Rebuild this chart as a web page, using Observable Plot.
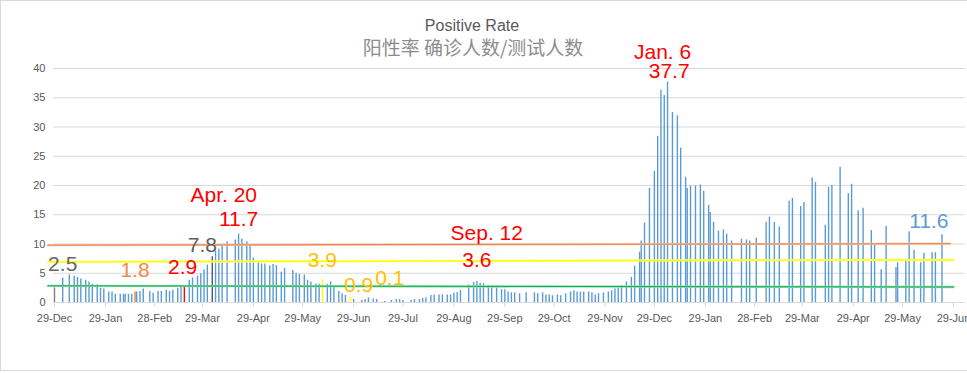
<!DOCTYPE html>
<html>
<head>
<meta charset="utf-8">
<script src="https://cdn.jsdelivr.net/npm/d3@7"></script>
<script src="https://cdn.jsdelivr.net/npm/@observablehq/plot@0.6"></script>
<style>
  html, body { margin: 0; padding: 0; background: #fff; overflow: hidden; }
  #wrap { position: relative; width: 967px; height: 373px; }
  #frame { position: absolute; left: 0; top: 0; width: 990px; height: 371px; border: 1px solid #d9d9d9; box-sizing: border-box; pointer-events: none; }
  #titles { position: absolute; left: 0; top: 0; }
  #chart { position: absolute; left: 0; top: 0; }
</style>
</head>
<body>
<div id="wrap">
  <div id="chart"></div>
  <svg id="titles" width="967" height="70">
    <text x="472" y="31" text-anchor="middle" font-family="Liberation Sans, Arial, sans-serif" font-size="16" fill="#595959">Positive Rate</text>
    <text x="473" y="54.5" text-anchor="middle" font-family="Noto Sans CJK SC, sans-serif" font-size="19" fill="#8c8c8c">阳性率 确诊人数/测试人数</text>
  </svg>
  <div id="frame"></div>
</div>
<script>
// ---- data (positive rate, %) ----
const dates = [
  "2020-12-29","2021-01-03","2021-01-07","2021-01-10","2021-01-12","2021-01-14","2021-01-17","2021-01-19","2021-01-21","2021-01-24",
  "2021-01-26","2021-01-28","2021-01-31","2021-02-02","2021-02-04","2021-02-07","2021-02-09","2021-02-10","2021-02-12","2021-02-14",
  "2021-02-16","2021-02-17","2021-02-19","2021-02-21","2021-02-25","2021-02-27","2021-03-02","2021-03-04","2021-03-07","2021-03-09",
  "2021-03-11","2021-03-14","2021-03-16","2021-03-18","2021-03-21","2021-03-23","2021-03-26","2021-03-28","2021-03-30","2021-04-01",
  "2021-04-04","2021-04-06","2021-04-08","2021-04-10","2021-04-13","2021-04-18","2021-04-20","2021-04-22","2021-04-25","2021-04-27",
  "2021-04-29","2021-05-02","2021-05-04","2021-05-06","2021-05-09","2021-05-11","2021-05-13","2021-05-16","2021-05-18","2021-05-23",
  "2021-05-25","2021-05-27","2021-05-30","2021-06-01","2021-06-03","2021-06-06","2021-06-08","2021-06-10","2021-06-13","2021-06-15",
  "2021-06-17","2021-06-20","2021-06-22","2021-06-24","2021-06-27","2021-06-29","2021-07-04","2021-07-06","2021-07-08","2021-07-11",
  "2021-07-13","2021-07-16","2021-07-18","2021-07-22","2021-07-25","2021-07-27","2021-07-29","2021-08-03","2021-08-05","2021-08-08",
  "2021-08-10","2021-08-12","2021-08-15","2021-08-17","2021-08-20","2021-08-22","2021-08-25","2021-08-27","2021-08-29","2021-08-31",
  "2021-09-02","2021-09-07","2021-09-10","2021-09-12","2021-09-14","2021-09-16","2021-09-19","2021-09-21","2021-09-24","2021-09-27",
  "2021-09-29","2021-10-01","2021-10-03","2021-10-05","2021-10-08","2021-10-12","2021-10-17","2021-10-19","2021-10-22","2021-10-24",
  "2021-10-26","2021-10-28","2021-10-31","2021-11-02","2021-11-05","2021-11-08","2021-11-10","2021-11-12","2021-11-14","2021-11-16",
  "2021-11-19","2021-11-21","2021-11-23","2021-11-25","2021-11-28","2021-12-01","2021-12-03","2021-12-05","2021-12-07","2021-12-09",
  "2021-12-12","2021-12-15","2021-12-17","2021-12-20","2021-12-21","2021-12-23","2021-12-26","2021-12-29","2021-12-31","2022-01-02",
  "2022-01-04","2022-01-06","2022-01-09","2022-01-12","2022-01-14","2022-01-17","2022-01-18","2022-01-20","2022-01-23","2022-01-26",
  "2022-01-28","2022-01-31","2022-02-01","2022-02-03","2022-02-06","2022-02-09","2022-02-11","2022-02-14","2022-02-20","2022-02-23",
  "2022-02-25","2022-03-01","2022-03-07","2022-03-09","2022-03-12","2022-03-15","2022-03-21","2022-03-23","2022-03-28","2022-03-30",
  "2022-04-04","2022-04-06","2022-04-12","2022-04-14","2022-04-16","2022-04-21","2022-04-26","2022-04-28","2022-05-02","2022-05-05",
  "2022-05-10","2022-05-12","2022-05-16","2022-05-19","2022-05-25","2022-05-26","2022-05-31","2022-06-02","2022-06-05","2022-06-09",
  "2022-06-11","2022-06-16","2022-06-18","2022-06-22"
];
const rates = [
  2.5, 4.2, 4.7, 4.5, 4.3, 4.0, 3.8, 3.5, 3.1, 3.0,
  2.4, 2.3, 1.8, 1.8, 1.4, 1.4, 1.4, 1.4, 1.4, 1.4,
  1.8, 1.8, 1.9, 2.3, 1.9, 1.6, 1.9, 1.9, 2.1, 1.9,
  2.1, 2.4, 2.6, 2.9, 3.8, 4.2, 4.5, 4.9, 5.6, 6.4,
  7.8, 8.8, 9.1, 9.7, 10.4, 10.7, 11.7, 10.8, 10.4, 9.7,
  7.6, 6.9, 6.6, 6.6, 6.3, 6.5, 6.3, 5.2, 5.8, 5.5,
  5.0, 4.8, 4.7, 3.8, 3.5, 3.1, 3.1, 3.9, 3.1, 3.5,
  2.8, 1.9, 1.5, 1.2, 0.9, 0.5, 0.35, 0.5, 0.8, 0.6,
  0.5, 0.1, 0.15, 0.35, 0.5, 0.5, 0.35, 0.35, 0.5, 0.5,
  0.7, 0.8, 1.2, 1.3, 1.3, 1.3, 1.3, 1.3, 1.6, 1.7,
  2.1, 3.0, 3.4, 3.6, 3.3, 3.2, 2.9, 2.85, 2.5, 2.2,
  2.2, 1.8, 1.65, 1.65, 1.5, 1.65, 1.65, 1.5, 1.65, 1.3,
  1.3, 1.15, 1.3, 1.15, 1.5, 1.8, 2.0, 1.8, 1.8, 1.8,
  1.8, 1.65, 1.3, 1.5, 1.65, 1.8, 2.0, 2.3, 2.5, 2.85,
  3.5, 4.3, 6.2, 8.6, 10.5, 13.6, 19.5, 22.4, 28.4, 36.3,
  35.4, 37.7, 32.5, 31.9, 26.4, 21.4, 19.5, 19.9, 19.9, 20.1,
  19.0, 16.6, 15.4, 13.7, 12.2, 12.4, 11.7, 10.5, 10.8, 10.7,
  10.5, 11.0, 13.7, 14.6, 13.7, 12.9, 17.3, 17.8, 16.4, 17.1,
  21.3, 20.5, 13.2, 19.7, 20.0, 23.1, 18.6, 20.2, 15.7, 16.1,
  12.3, 9.9, 5.6, 13.0, 6.0, 6.8, 7.2, 12.1, 8.9, 6.8,
  8.4, 8.5, 8.5, 11.6
];

// highlighted bars
const highlightDates = ["2020-12-29", "2021-02-16", "2021-03-18", "2021-04-04", "2021-06-10", "2021-06-27", "2021-07-16"];

// annotations
const annLabels = ["2.5", "1.8", "2.9", "7.8", "Apr. 20", "11.7", "3.9", "0.9", "0.1", "Sep. 12", "3.6", "Jan. 6", "37.7", "11.6"];
const annDates  = ["2021-01-03", "2021-02-16", "2021-03-17", "2021-03-29", "2021-04-11", "2021-04-20", "2021-06-10", "2021-07-02", "2021-07-21", "2021-09-18", "2021-09-12", "2022-01-03", "2022-01-07", "2022-06-14"];
const annValues = [6.6, 5.5, 5.95, 9.8, 18.4, 14.15, 7.3, 2.95, 4.15, 11.75, 7.15, 42.8, 39.6, 13.9];

// reference lines
const refNames       = ["orange", "yellow", "green"];
const refStartDates  = ["2020-12-25", "2020-12-25", "2020-12-25"];
const refEndDates    = ["2022-06-27", "2022-06-29", "2022-06-29"];
const refStartValues = [9.8, 6.95, 2.85];
const refEndValues   = [10.05, 7.3, 2.65];

// axis ticks
const xTickDates = ["2020-12-29","2021-01-29","2021-02-28","2021-03-29","2021-04-29","2021-05-29","2021-06-29","2021-07-29","2021-08-29","2021-09-29",
  "2021-10-29","2021-11-29","2021-12-29","2022-01-29","2022-02-28","2022-03-29","2022-04-29","2022-05-29","2022-06-29"];
const yTicks = [0, 5, 10, 15, 20, 25, 30, 35, 40];

// ---- styles ----
const BLUE = "#5B9BD5";
const highlightColors = ["#7f7f7f", "#ED7D31", "#FF0000", "#595959", "#FFFF00", "#FFFF00", "#FFFF00"];
const annColors = ["#666666", "#EE8A4A", "#FF0000", "#5f5f5f", "#FF0000", "#FF0000", "#FFC000", "#FFC000", "#FFC000", "#FF0000", "#FF0000", "#FF0000", "#FF0000", "#5B9BD5"];
const refStyles = {
  orange: [{stroke: "#F5C3A6", width: 2.2}, {stroke: "#E9834A", width: 1}],
  yellow: [{stroke: "#FFFF70", width: 2.2}, {stroke: "#FFFF00", width: 1.2}],
  green:  [{stroke: "#9ED9B3", width: 2.4}, {stroke: "#00B050", width: 1}]
};

// ---- build ----
const parse = d3.utcParse("%Y-%m-%d");
const colorOf = new Map(highlightDates.map((d, i) => [d, highlightColors[i]]));
const bars = dates.map((d, i) => ({date: parse(d), rate: rates[i], color: colorOf.get(d) || BLUE}));
const anns = annLabels.map((t, i) => ({label: t, date: parse(annDates[i]), v: annValues[i], color: annColors[i]}));
const refs = refNames.map((n, i) => ({name: n, pts: [
  {date: parse(refStartDates[i]), v: refStartValues[i]},
  {date: parse(refEndDates[i]), v: refEndValues[i]}
]}));

const refMarks = refs.flatMap(r => refStyles[r.name].map(s =>
  Plot.line(r.pts, {x: "date", y: "v", stroke: s.stroke, strokeWidth: s.width})));

const chart = Plot.plot({
  width: 967,
  height: 373,
  marginLeft: 53,
  marginRight: 2,
  marginTop: 68,
  marginBottom: 71,
  style: {fontFamily: "Liberation Sans, Arial, sans-serif", fontSize: "11px", background: "transparent", overflow: "visible"},
  x: {type: "utc", domain: [parse(xTickDates[0]), parse(xTickDates[xTickDates.length - 1])], range: [54, 953], label: null},
  y: {domain: [0, 40], label: null},
  color: {type: "identity"},
  marks: [
    Plot.ruleY(yTicks, {stroke: "#d9d9d9", strokeWidth: 1}),
    Plot.axisY({ticks: yTicks, tickSize: 0, tickPadding: 8, fill: "#595959", fontSize: 11, label: null}),
    Plot.axisX({ticks: xTickDates.map(parse), tickFormat: d3.utcFormat("%d-%b"), tickSize: 5, tickPadding: 6.5,
      stroke: "#d9d9d9", fill: "#595959", fontSize: 11, label: null}),
    Plot.ruleX(bars, {x: "date", y1: 0, y2: "rate", stroke: "color", strokeWidth: 1.4}),
    ...refMarks,
    Plot.text(anns, {x: "date", y: "v", text: "label", fill: "color", fontSize: 21, textAnchor: "middle"})
  ]
});
document.getElementById("chart").appendChild(chart);
</script>
</body>
</html>
